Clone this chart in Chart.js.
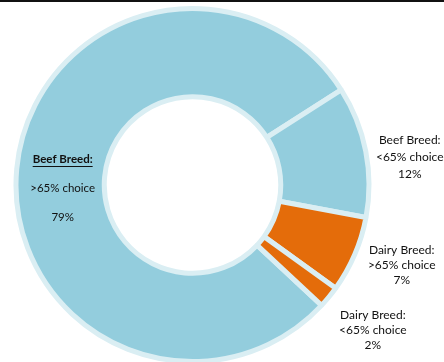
<!DOCTYPE html>
<html>
<head>
<meta charset="utf-8">
<script src="https://cdn.jsdelivr.net/npm/chart.js@4.4.1/dist/chart.umd.min.js"></script>
<style>
  html, body { margin: 0; padding: 0; background: #fff; overflow: hidden; }
  .topline { position: absolute; left: 0; top: 0; width: 444px; height: 2px; background: #111; }
  .wrap { position: absolute; left: 0; top: 0; width: 444px; height: 364px; }
</style>
</head>
<body>
<div class="wrap"><canvas id="chart"></canvas></div>
<div class="topline"></div>
<script>
const categories = ['Beef Breed: >65% choice', 'Beef Breed: <65% choice', 'Dairy Breed: >65% choice', 'Dairy Breed: <65% choice'];
const labelLines = [
  ['Beef Breed:', '>65% choice', '79%'],
  ['Beef Breed:', '<65% choice', '12%'],
  ['Dairy Breed:', '>65% choice', '7%'],
  ['Dairy Breed:', '<65% choice', '2%']
];
const shares = [79, 12, 7, 2];
const colors = ['#93cddd', '#93cddd', '#e46c0a', '#e46c0a'];

// label anchor offsets from each slice (first one from the ring middle, others from the outer edge)
const labelOffsets = [[2, 15], [44, 6], [47, 11], [44, 33]];

const labelPlugin = {
  id: 'sliceLabels',
  afterDatasetsDraw(chart) {
    const ctx = chart.ctx;
    const arcs = chart.getDatasetMeta(0).data;
    ctx.save();
    ctx.fillStyle = '#111';
    ctx.textAlign = 'center';
    ctx.textBaseline = 'middle';
    arcs.forEach((arc, i) => {
      const mid = (arc.startAngle + arc.endAngle) / 2;
      const r = i === 0 ? (arc.innerRadius + arc.outerRadius) / 2 : arc.outerRadius;
      const x = arc.x + Math.cos(mid) * r + labelOffsets[i][0];
      const y = arc.y + Math.sin(mid) * r + labelOffsets[i][1];
      const lines = labelLines[i];
      if (i === 0) {
        // big slice: bold underlined title, wide spacing
        ctx.font = 'bold 11.5px Lato';
        ctx.fillText(lines[0], x, y - 29);
        const w = ctx.measureText(lines[0]).width;
        ctx.fillRect(x - w / 2, y - 29 + 7, w, 1);
        ctx.font = '11.5px Lato';
        ctx.fillText(lines[1], x, y);
        ctx.fillText(lines[2], x, y + 29);
      } else {
        ctx.font = '12px Lato';
        const gap = i === 1 ? 17 : 15;
        lines.forEach((t, k) => ctx.fillText(t, x, y + (k - 1) * gap));
      }
    });
    ctx.restore();
  }
};

new Chart(document.getElementById('chart'), {
  type: 'doughnut',
  data: {
    labels: categories,
    datasets: [{
      data: shares,
      backgroundColor: colors,
      borderColor: '#daeef3',
      borderWidth: 5,
      hoverOffset: 0
    }]
  },
  options: {
    animation: false,
    responsive: true,
    maintainAspectRatio: false,
    cutout: '50%',
    rotation: 133,
    layout: { padding: { left: 13, right: 72, top: 6, bottom: 0 } },
    plugins: {
      legend: { display: false },
      tooltip: { enabled: false }
    }
  },
  plugins: [labelPlugin]
});
</script>
</body>
</html>
